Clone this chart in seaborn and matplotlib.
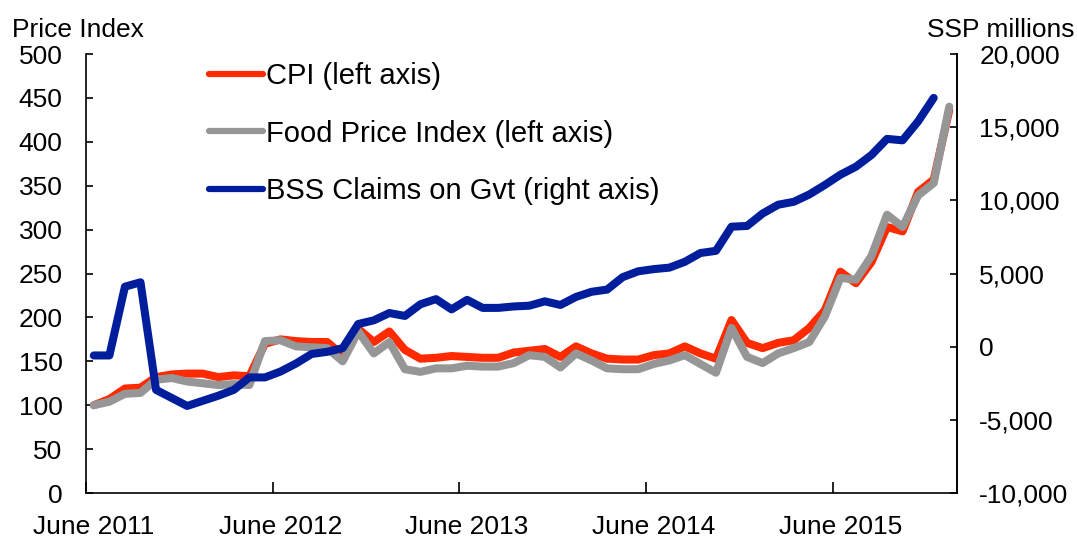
import numpy as np
import pandas as pd
import matplotlib
matplotlib.use("Agg")
import matplotlib.pyplot as plt
import seaborn as sns

# monthly data, June 2011 - January 2016
months = pd.date_range("2011-06-01", periods=56, freq="MS")

cpi = [100, 107, 119, 120, 132, 135, 136, 136, 132, 134, 133, 170,
       175, 173, 172, 172, 157, 187, 172, 184, 163, 153, 154, 156,
       155, 154, 154, 160, 162, 164, 155, 167, 159, 153, 152, 152,
       157, 159, 167, 159, 153, 197, 171, 165, 171, 174, 188, 208,
       252, 239, 263, 303, 298, 343, 357, 436]

food = [100, 104, 113, 114, 129, 131, 127, 125, 123, 124, 123, 173,
        174, 167, 166, 165, 150, 184, 159, 172, 141, 138, 142, 142,
        145, 144, 144, 148, 157, 155, 143, 159, 151, 142, 141, 141,
        147, 151, 157, 147, 137, 188, 155, 148, 159, 165, 172, 201,
        245, 243, 270, 317, 303, 339, 353, 440]

# SSP millions, last month not available
claims = [-600, -600, 4100, 4400, -2950, -3500, -4050, -3700, -3350, -2950, -2100, -2100,
          -1700, -1150, -500, -350, -100, 1550, 1800, 2300, 2100, 2900, 3250, 2550,
          3200, 2650, 2650, 2750, 2800, 3100, 2850, 3400, 3750, 3900, 4750, 5150,
          5300, 5400, 5800, 6400, 6550, 8200, 8250, 9100, 9700, 9900, 10400, 11050,
          11750, 12300, 13100, 14200, 14100, 15400, 17000, np.nan]

year_labels = ["June 2011", "June 2012", "June 2013", "June 2014", "June 2015"]

df = pd.DataFrame({"month": months, "cpi": cpi, "food": food, "claims": claims})
df["pos"] = np.arange(len(df))

sns.set_style("ticks")
plt.rcParams["font.family"] = ["Liberation Sans", "DejaVu Sans"]
plt.rcParams["text.color"] = "black"
plt.rcParams["xtick.color"] = "black"
plt.rcParams["ytick.color"] = "black"
plt.rcParams["xtick.labelcolor"] = "black"
plt.rcParams["ytick.labelcolor"] = "black"
fs = 19

red = "#ff2a00"
grey = "#969696"
blue = "#001e9c"
lw = 5.8

fig = plt.figure(figsize=(10.77, 5.4), dpi=100)
ax = fig.add_axes([0.0799, 0.087, 0.8087, 0.813])
ax2 = ax.twinx()

sns.lineplot(data=df, x="pos", y="cpi", ax=ax, color=red, lw=lw, label="CPI (left axis)", legend=False)
sns.lineplot(data=df, x="pos", y="food", ax=ax, color=grey, lw=lw, label="Food Price Index (left axis)", legend=False)
sns.lineplot(data=df, x="pos", y="claims", ax=ax2, color=blue, lw=lw, label="BSS Claims on Gvt (right axis)", legend=False)

ax.set_xlim(-0.5, len(df) - 0.5)
ax.set_ylim(0, 500)
ax.set_yticks(range(0, 501, 50))
ax2.set_ylim(-10000, 20000)
ax2.set_yticks(range(-10000, 20001, 5000))
ax2.set_yticklabels([f"{v:,}" for v in range(-10000, 20001, 5000)])

# ticks on year boundaries, labels centred on June
ax.set_xticks(np.arange(-0.5, len(df) - 1, 12))
ax.set_xticklabels([])
ax.set_xticks(np.arange(0, len(df), 12), minor=True)
ax.set_xticklabels(year_labels, minor=True)
ax.tick_params(axis="x", which="major", direction="in", length=8, width=1.2)
ax.tick_params(axis="x", which="minor", length=0, pad=16, labelsize=fs)
ax.tick_params(axis="y", direction="in", length=5, width=1.2, pad=17, labelsize=fs)
ax2.tick_params(axis="y", direction="in", length=5, width=1.2, pad=16, labelsize=fs)

ax.set_xlabel("")
ax.set_ylabel("")
ax2.set_ylabel("")
for a in (ax, ax2):
    a.spines["top"].set_visible(False)
    for s in ("left", "right", "bottom"):
        a.spines[s].set_linewidth(1.2)
        a.spines[s].set_color("black")
ax2.spines["left"].set_visible(False)
ax2.spines["bottom"].set_visible(False)

fig.text(0.011, 0.944, "Price Index", fontsize=fs, va="center", ha="left")
fig.text(0.998, 0.944, "SSP millions", fontsize=fs, va="center", ha="right")

h1, l1 = ax.get_legend_handles_labels()
h2, l2 = ax2.get_legend_handles_labels()
leg = ax2.legend(h1 + h2, l1 + l2, loc="upper left", bbox_to_anchor=(0.1698, 0.933),
                 bbox_transform=fig.transFigure, frameon=False, fontsize=21,
                 handlelength=1.85, handletextpad=0.1, labelspacing=1.0)
for line in leg.get_lines():
    line.set_linewidth(4.5)
    line.set_solid_capstyle("round")

fig.savefig("out.png", dpi=100)
